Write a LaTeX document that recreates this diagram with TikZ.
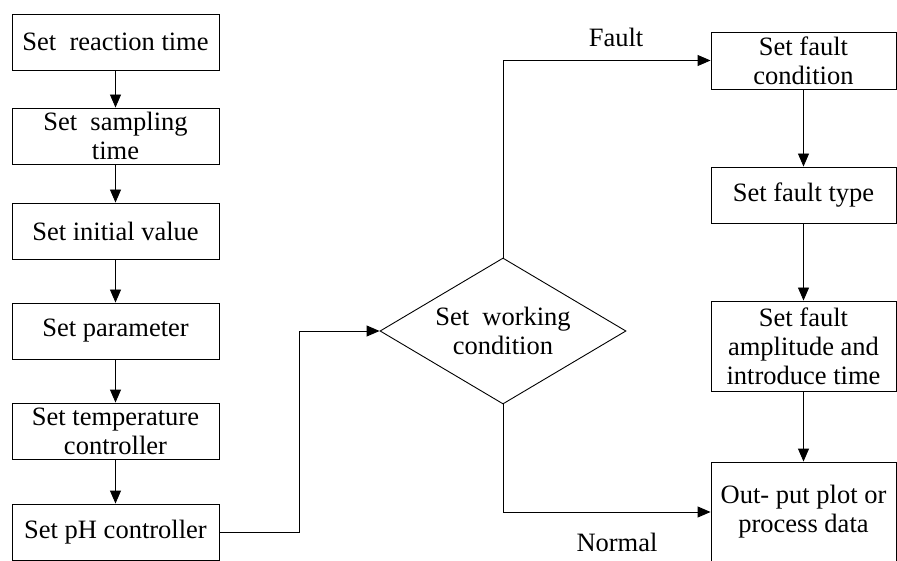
\documentclass[tikz,border=0pt]{standalone}
\usepackage{fontspec}
\setmainfont{Liberation Serif}
\usetikzlibrary{shapes.geometric,arrows.meta}

\begin{document}
\begin{tikzpicture}[x=1pt,y=-1pt,
  font=\fontsize{26.5}{29}\selectfont,
  every path/.style={line width=0.9pt},
  >={Triangle[length=13pt,width=11pt]}]
\useasboundingbox (0,0) rectangle (897,561);
\begin{scope}[every node/.style={rectangle,draw,inner sep=0pt,align=center,minimum width=207pt,minimum height=56pt}]
\node (0) at (115.5,42) {Set\ \ reaction time};
\node (1) at (115.5,136) {Set\ \ sampling\\time};
\node (2) at (115.5,231) {Set initial value};
\node (3) at (115.5,331) {Set parameter};
\node (4) at (115.5,431) {Set temperature\\controller};
\node (5) at (115.5,532) {Set pH controller};
\end{scope}

\node (6) [diamond,draw,inner sep=0pt,aspect=1.68,minimum width=246pt,minimum height=146pt,align=center] at (503,331) {Set\ \ working\\condition};

\begin{scope}[every node/.style={rectangle,draw,inner sep=0pt,align=center,minimum width=185pt}]
\node (7) [minimum height=57pt] at (803.5,60.5) {Set fault\\condition};
\node (8) [minimum height=56pt] at (803.5,195) {Set fault type};
\node (9) [minimum height=90pt] at (803.5,346) {Set fault\\amplitude and\\introduce time};
\node (10) [minimum height=100pt] at (803.5,512) {Out- put plot or\\process data};
\end{scope}

\node (f) at (616,37) {Fault};
\node (n) at (617,542) {Normal};

\draw[->] (0) -- (1);
\draw[->] (1) -- (2);
\draw[->] (2) -- (3);
\draw[->] (3) -- (4);
\draw[->] (4) -- (5);
\draw[->] (5.east) -- ++(80,0) |- (6.west);
\draw[->] (6.north) |- (7.west);
\draw[->] (6.south) |- (10.west);
\draw[->] (7) -- (8);
\draw[->] (8) -- (9);
\draw[->] (9) -- (10);
\end{tikzpicture}
\end{document}
